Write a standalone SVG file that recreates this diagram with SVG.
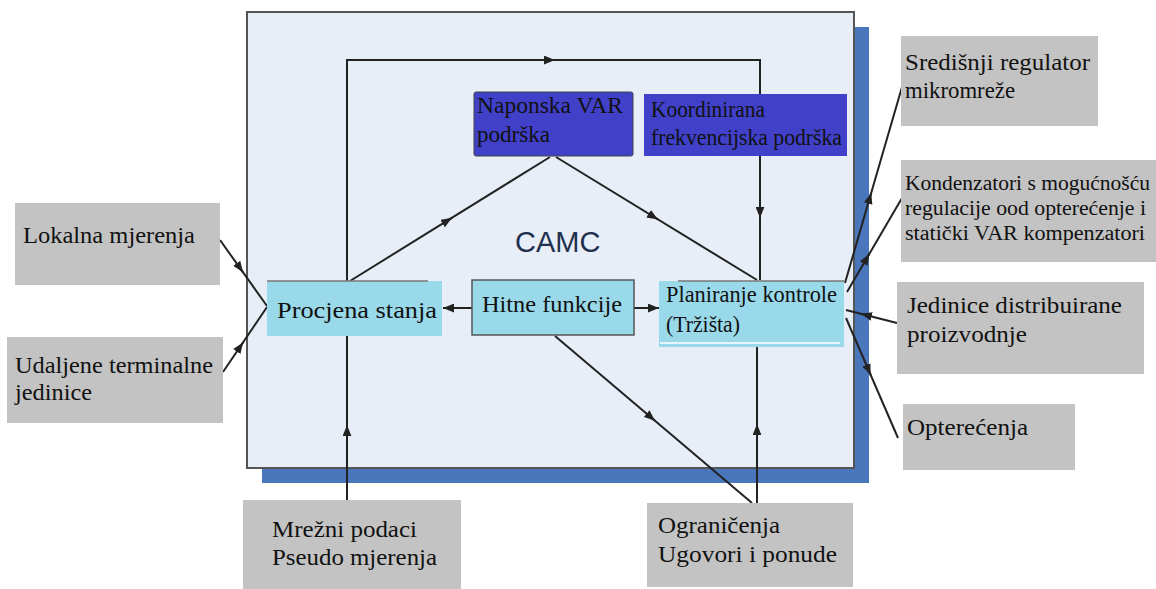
<svg xmlns="http://www.w3.org/2000/svg" width="1156" height="589" viewBox="0 0 1156 589">
<style>
.t{font-family:"Liberation Serif","Times New Roman",serif;font-size:24px;fill:#111}
.ts{font-family:"Liberation Serif","Times New Roman",serif;font-size:20px;fill:#111}
.gray{fill:#c3c3c3}
.lb{fill:#99d9ea}
.db{fill:#4040c8}
.ln{fill:none;stroke:#222;stroke-width:2}
.ar{fill:none;stroke:#222;stroke-width:2;marker-end:url(#ah)}
</style>
<defs>
<marker id="ah" viewBox="0 0 10 8" refX="10" refY="4" markerWidth="11" markerHeight="9" markerUnits="userSpaceOnUse" orient="auto">
<path d="M0,0 L10,4 L0,8 z" fill="#222"/>
</marker>
</defs>
<rect width="1156" height="589" fill="#ffffff"/>
<g id="camc">
<rect x="262" y="27" width="607" height="456" fill="#4a76bb"/>
<rect x="247" y="12" width="607" height="456" fill="#e8eef7" stroke="#555" stroke-width="2"/>
<text x="515" y="252" style="font-family:'Liberation Sans',Arial,sans-serif;font-size:29px;fill:#223050">CAMC</text>
</g>
<g id="connectors">
<path class="ln" d="M347,281 V60 H760 V280"/>
<path class="ln" d="M350,281 L550,157"/>
<path class="ln" d="M556,157 L757,280"/>
<path class="ln" d="M555,336 L752,503"/>
<path class="ln" d="M757,503 V347"/>
<path class="ln" d="M347,500 V336"/>
<path class="ln" d="M220,240 L267,306"/>
<path class="ln" d="M223,372 L267,307"/>
<path class="ln" d="M845,283 L902,87"/>
<path class="ln" d="M847,292 L902,198"/>
<path class="ln" d="M897,323 L846,310"/>
<path class="ln" d="M846,318 L898,438"/>
<path class="ar" d="M472,308 L443,308"/>
<path class="ar" d="M634,308 L659,308"/>
<path class="ar" d="M540,60 L555,60"/>
<path class="ar" d="M760,205 L760,218"/>
<path class="ar" d="M443,223.3 L452,217.8"/>
<path class="ar" d="M649,213.9 L658,219.4"/>
<path class="ar" d="M646,413.1 L655,420.8"/>
<path class="ar" d="M757,436 L757,424"/>
<path class="ar" d="M347,437 L347,425"/>
<path class="ar" d="M237,263.8 L243,272.3"/>
<path class="ar" d="M237,351.3 L243,342.5"/>
<path class="ar" d="M868,204 L871.2,193"/>
<path class="ar" d="M864,263 L869.2,254"/>
<path class="ar" d="M870,316.1 L861,313.8"/>
<path class="ar" d="M866.4,365 L870.7,375"/>
</g>
<g id="naponska">
<rect class="db" x="474" y="92" width="159" height="64" rx="2" stroke="#444" stroke-width="1"/>
<text class="t" x="477" y="113" textLength="146" lengthAdjust="spacingAndGlyphs">Naponska VAR</text>
<text class="t" x="477" y="142" textLength="73" lengthAdjust="spacingAndGlyphs">podrška</text>
</g>
<g id="koordinirana">
<rect class="db" x="644" y="94" width="203" height="62"/>
<text class="t" x="651" y="117" textLength="114" lengthAdjust="spacingAndGlyphs">Koordinirana</text>
<text class="t" x="651" y="145" textLength="191" lengthAdjust="spacingAndGlyphs">frekvencijska podrška</text>
</g>
<g id="procjena">
<rect class="lb" x="267" y="281" width="175" height="55"/>
<line x1="267" y1="281" x2="428" y2="281" stroke="#777" stroke-width="1.5"/>
<text class="t" x="277" y="318" textLength="160" lengthAdjust="spacingAndGlyphs">Procjena stanja</text>
</g>
<g id="hitne">
<rect class="lb" x="472" y="280" width="162" height="55" stroke="#555" stroke-width="1.5"/>
<text class="t" x="482" y="312" textLength="140" lengthAdjust="spacingAndGlyphs">Hitne funkcije</text>
</g>
<g id="planiranje">
<rect class="lb" x="659" y="281" width="185" height="66"/>
<line x1="678" y1="281" x2="844" y2="281" stroke="#777" stroke-width="1.5"/>
<line x1="660" y1="343" x2="840" y2="343" stroke="#ffffff" stroke-width="1.5"/>
<text class="t" x="666" y="302" textLength="171" lengthAdjust="spacingAndGlyphs">Planiranje kontrole</text>
<text class="t" x="666" y="332" textLength="74" lengthAdjust="spacingAndGlyphs">(Tržišta)</text>
</g>
<g id="lokalna">
<rect class="gray" x="15" y="203" width="205" height="82"/>
<text class="t" x="23" y="243" textLength="172" lengthAdjust="spacingAndGlyphs">Lokalna mjerenja</text>
</g>
<g id="udaljene">
<rect class="gray" x="7" y="337" width="216" height="86"/>
<text class="t" x="15" y="373" textLength="198" lengthAdjust="spacingAndGlyphs">Udaljene terminalne</text>
<text class="t" x="15" y="400" textLength="77" lengthAdjust="spacingAndGlyphs">jedinice</text>
</g>
<g id="mrezni">
<rect class="gray" x="243" y="500" width="218" height="89"/>
<text class="t" x="272" y="537" textLength="145" lengthAdjust="spacingAndGlyphs">Mrežni podaci</text>
<text class="t" x="272" y="565" textLength="165" lengthAdjust="spacingAndGlyphs">Pseudo mjerenja</text>
</g>
<g id="ogranicenja">
<rect class="gray" x="647" y="503" width="206" height="84"/>
<text class="t" x="658" y="533" textLength="122" lengthAdjust="spacingAndGlyphs">Ograničenja</text>
<text class="t" x="658" y="562" textLength="179" lengthAdjust="spacingAndGlyphs">Ugovori i ponude</text>
</g>
<g id="sredisnji">
<rect class="gray" x="901" y="36" width="197" height="90"/>
<text class="t" x="905" y="70" textLength="185" lengthAdjust="spacingAndGlyphs">Središnji regulator</text>
<text class="t" x="905" y="98" textLength="110" lengthAdjust="spacingAndGlyphs">mikromreže</text>
</g>
<g id="kondenzatori">
<rect class="gray" x="901" y="160" width="255" height="102"/>
<text class="ts" x="905" y="190" textLength="245" lengthAdjust="spacingAndGlyphs">Kondenzatori s mogućnošću</text>
<text class="ts" x="905" y="215" textLength="241" lengthAdjust="spacingAndGlyphs">regulacije ood opterećenje i</text>
<text class="ts" x="905" y="240" textLength="240" lengthAdjust="spacingAndGlyphs">statički VAR kompenzatori</text>
</g>
<g id="jedinice">
<rect class="gray" x="897" y="282" width="247" height="92"/>
<text class="t" x="907" y="313" textLength="215" lengthAdjust="spacingAndGlyphs">Jedinice distribuirane</text>
<text class="t" x="907" y="342" textLength="120" lengthAdjust="spacingAndGlyphs">proizvodnje</text>
</g>
<g id="opterecenja">
<rect class="gray" x="903" y="404" width="172" height="66"/>
<text class="t" x="907" y="435" textLength="121" lengthAdjust="spacingAndGlyphs">Opterećenja</text>
</g>
</svg>
